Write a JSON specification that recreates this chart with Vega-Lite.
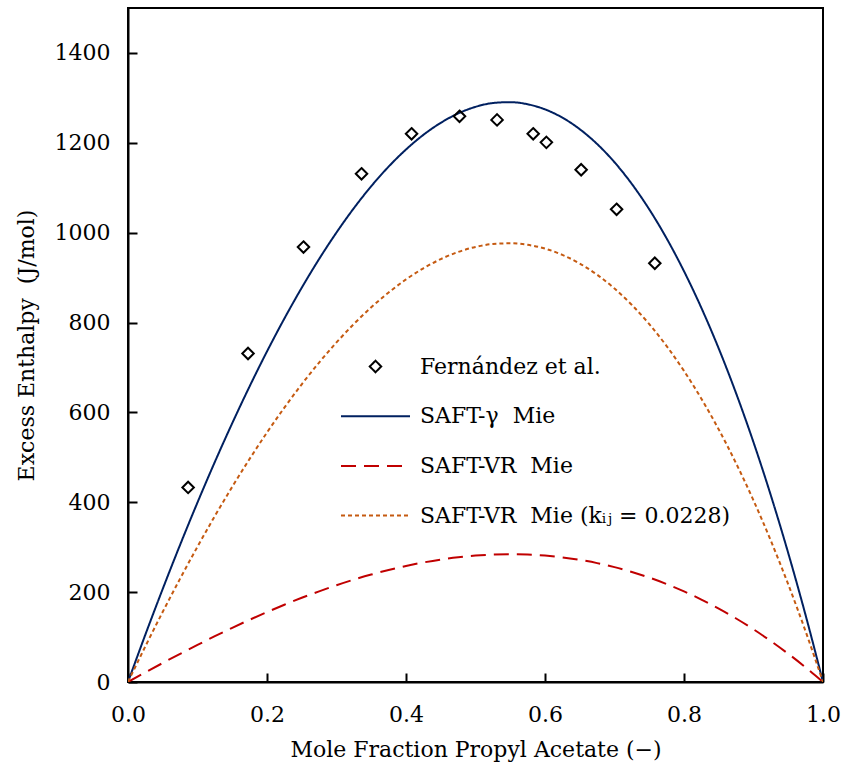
{
  "$schema": "https://vega.github.io/schema/vega-lite/v6.json",
  "width": 695,
  "height": 674,
  "autosize": {"type": "none"},
  "padding": {"left": 128, "top": 8, "right": 22, "bottom": 92},
  "background": "#ffffff",
  "config": {
    "font": "DejaVu Serif",
    "view": {"stroke": "#000000", "strokeWidth": 2},
    "axis": {
      "labelFlush": false,
      "labelFont": "DejaVu Serif",
      "labelFontSize": 22,
      "labelColor": "#000000",
      "titleFont": "DejaVu Serif",
      "titleFontSize": 22,
      "titleFontWeight": "normal",
      "titleColor": "#000000"
    },
    "legend": {
      "labelFont": "DejaVu Serif",
      "labelFontSize": 22,
      "labelColor": "#000000",
      "labelLimit": 500,
      "symbolStrokeWidth": 2,
      "padding": 0
    }
  },
  "datasets": {
    "xticks": [{"v": 0.2}, {"v": 0.4}, {"v": 0.6}, {"v": 0.8}],
    "yticks": [{"v": 200}, {"v": 400}, {"v": 600}, {"v": 800}, {"v": 1000}, {"v": 1200}, {"v": 1400}],
    "pts": [
      {"series": "Fernández et al.", "x": 0.0865, "y": 433},
      {"series": "Fernández et al.", "x": 0.1727, "y": 731},
      {"series": "Fernández et al.", "x": 0.2525, "y": 968},
      {"series": "Fernández et al.", "x": 0.336, "y": 1131},
      {"series": "Fernández et al.", "x": 0.408, "y": 1220},
      {"series": "Fernández et al.", "x": 0.477, "y": 1259},
      {"series": "Fernández et al.", "x": 0.531, "y": 1251},
      {"series": "Fernández et al.", "x": 0.583, "y": 1220},
      {"series": "Fernández et al.", "x": 0.602, "y": 1201},
      {"series": "Fernández et al.", "x": 0.652, "y": 1140},
      {"series": "Fernández et al.", "x": 0.703, "y": 1052},
      {"series": "Fernández et al.", "x": 0.758, "y": 932}
    ],
    "curves": [
      {"series": "SAFT-γ\u00a0 Mie", "x": 0, "y": 0},
      {"series": "SAFT-γ\u00a0 Mie", "x": 0.025, "y": 105.5},
      {"series": "SAFT-γ\u00a0 Mie", "x": 0.05, "y": 207.3},
      {"series": "SAFT-γ\u00a0 Mie", "x": 0.075, "y": 305.4},
      {"series": "SAFT-γ\u00a0 Mie", "x": 0.1, "y": 399.6},
      {"series": "SAFT-γ\u00a0 Mie", "x": 0.125, "y": 489.9},
      {"series": "SAFT-γ\u00a0 Mie", "x": 0.15, "y": 576.0},
      {"series": "SAFT-γ\u00a0 Mie", "x": 0.175, "y": 658.0},
      {"series": "SAFT-γ\u00a0 Mie", "x": 0.2, "y": 735.7},
      {"series": "SAFT-γ\u00a0 Mie", "x": 0.225, "y": 808.9},
      {"series": "SAFT-γ\u00a0 Mie", "x": 0.25, "y": 877.5},
      {"series": "SAFT-γ\u00a0 Mie", "x": 0.275, "y": 941.4},
      {"series": "SAFT-γ\u00a0 Mie", "x": 0.3, "y": 1000.4},
      {"series": "SAFT-γ\u00a0 Mie", "x": 0.325, "y": 1054.5},
      {"series": "SAFT-γ\u00a0 Mie", "x": 0.35, "y": 1103.4},
      {"series": "SAFT-γ\u00a0 Mie", "x": 0.375, "y": 1147.0},
      {"series": "SAFT-γ\u00a0 Mie", "x": 0.4, "y": 1185.1},
      {"series": "SAFT-γ\u00a0 Mie", "x": 0.425, "y": 1217.7},
      {"series": "SAFT-γ\u00a0 Mie", "x": 0.45, "y": 1244.4},
      {"series": "SAFT-γ\u00a0 Mie", "x": 0.475, "y": 1265.3},
      {"series": "SAFT-γ\u00a0 Mie", "x": 0.5, "y": 1280.0},
      {"series": "SAFT-γ\u00a0 Mie", "x": 0.525, "y": 1288.5},
      {"series": "SAFT-γ\u00a0 Mie", "x": 0.55, "y": 1290.5},
      {"series": "SAFT-γ\u00a0 Mie", "x": 0.575, "y": 1285.8},
      {"series": "SAFT-γ\u00a0 Mie", "x": 0.6, "y": 1274.4},
      {"series": "SAFT-γ\u00a0 Mie", "x": 0.625, "y": 1256.0},
      {"series": "SAFT-γ\u00a0 Mie", "x": 0.65, "y": 1230.3},
      {"series": "SAFT-γ\u00a0 Mie", "x": 0.675, "y": 1197.3},
      {"series": "SAFT-γ\u00a0 Mie", "x": 0.7, "y": 1156.7},
      {"series": "SAFT-γ\u00a0 Mie", "x": 0.725, "y": 1108.3},
      {"series": "SAFT-γ\u00a0 Mie", "x": 0.75, "y": 1051.9},
      {"series": "SAFT-γ\u00a0 Mie", "x": 0.775, "y": 987.3},
      {"series": "SAFT-γ\u00a0 Mie", "x": 0.8, "y": 914.2},
      {"series": "SAFT-γ\u00a0 Mie", "x": 0.825, "y": 832.6},
      {"series": "SAFT-γ\u00a0 Mie", "x": 0.85, "y": 742.1},
      {"series": "SAFT-γ\u00a0 Mie", "x": 0.875, "y": 642.4},
      {"series": "SAFT-γ\u00a0 Mie", "x": 0.9, "y": 533.5},
      {"series": "SAFT-γ\u00a0 Mie", "x": 0.925, "y": 415.1},
      {"series": "SAFT-γ\u00a0 Mie", "x": 0.95, "y": 286.8},
      {"series": "SAFT-γ\u00a0 Mie", "x": 0.975, "y": 148.5},
      {"series": "SAFT-γ\u00a0 Mie", "x": 1, "y": 0},
      {"series": "SAFT-VR\u00a0 Mie", "x": 0, "y": 0},
      {"series": "SAFT-VR\u00a0 Mie", "x": 0.025, "y": 21.4},
      {"series": "SAFT-VR\u00a0 Mie", "x": 0.05, "y": 42.3},
      {"series": "SAFT-VR\u00a0 Mie", "x": 0.075, "y": 62.7},
      {"series": "SAFT-VR\u00a0 Mie", "x": 0.1, "y": 82.6},
      {"series": "SAFT-VR\u00a0 Mie", "x": 0.125, "y": 101.9},
      {"series": "SAFT-VR\u00a0 Mie", "x": 0.15, "y": 120.6},
      {"series": "SAFT-VR\u00a0 Mie", "x": 0.175, "y": 138.5},
      {"series": "SAFT-VR\u00a0 Mie", "x": 0.2, "y": 155.6},
      {"series": "SAFT-VR\u00a0 Mie", "x": 0.225, "y": 171.9},
      {"series": "SAFT-VR\u00a0 Mie", "x": 0.25, "y": 187.4},
      {"series": "SAFT-VR\u00a0 Mie", "x": 0.275, "y": 201.8},
      {"series": "SAFT-VR\u00a0 Mie", "x": 0.3, "y": 215.3},
      {"series": "SAFT-VR\u00a0 Mie", "x": 0.325, "y": 227.8},
      {"series": "SAFT-VR\u00a0 Mie", "x": 0.35, "y": 239.1},
      {"series": "SAFT-VR\u00a0 Mie", "x": 0.375, "y": 249.3},
      {"series": "SAFT-VR\u00a0 Mie", "x": 0.4, "y": 258.3},
      {"series": "SAFT-VR\u00a0 Mie", "x": 0.425, "y": 266.0},
      {"series": "SAFT-VR\u00a0 Mie", "x": 0.45, "y": 272.4},
      {"series": "SAFT-VR\u00a0 Mie", "x": 0.475, "y": 277.5},
      {"series": "SAFT-VR\u00a0 Mie", "x": 0.5, "y": 281.3},
      {"series": "SAFT-VR\u00a0 Mie", "x": 0.525, "y": 283.5},
      {"series": "SAFT-VR\u00a0 Mie", "x": 0.55, "y": 284.3},
      {"series": "SAFT-VR\u00a0 Mie", "x": 0.575, "y": 283.6},
      {"series": "SAFT-VR\u00a0 Mie", "x": 0.6, "y": 281.3},
      {"series": "SAFT-VR\u00a0 Mie", "x": 0.625, "y": 277.4},
      {"series": "SAFT-VR\u00a0 Mie", "x": 0.65, "y": 271.8},
      {"series": "SAFT-VR\u00a0 Mie", "x": 0.675, "y": 264.6},
      {"series": "SAFT-VR\u00a0 Mie", "x": 0.7, "y": 255.6},
      {"series": "SAFT-VR\u00a0 Mie", "x": 0.725, "y": 244.9},
      {"series": "SAFT-VR\u00a0 Mie", "x": 0.75, "y": 232.4},
      {"series": "SAFT-VR\u00a0 Mie", "x": 0.775, "y": 218.0},
      {"series": "SAFT-VR\u00a0 Mie", "x": 0.8, "y": 201.7},
      {"series": "SAFT-VR\u00a0 Mie", "x": 0.825, "y": 183.5},
      {"series": "SAFT-VR\u00a0 Mie", "x": 0.85, "y": 163.4},
      {"series": "SAFT-VR\u00a0 Mie", "x": 0.875, "y": 141.3},
      {"series": "SAFT-VR\u00a0 Mie", "x": 0.9, "y": 117.2},
      {"series": "SAFT-VR\u00a0 Mie", "x": 0.925, "y": 91.0},
      {"series": "SAFT-VR\u00a0 Mie", "x": 0.95, "y": 62.8},
      {"series": "SAFT-VR\u00a0 Mie", "x": 0.975, "y": 32.5},
      {"series": "SAFT-VR\u00a0 Mie", "x": 1, "y": 0},
      {"series": "SAFT-VR\u00a0 Mie (kᵢⱼ = 0.0228)", "x": 0, "y": 0},
      {"series": "SAFT-VR\u00a0 Mie (kᵢⱼ = 0.0228)", "x": 0.025, "y": 79.4},
      {"series": "SAFT-VR\u00a0 Mie (kᵢⱼ = 0.0228)", "x": 0.05, "y": 156.2},
      {"series": "SAFT-VR\u00a0 Mie (kᵢⱼ = 0.0228)", "x": 0.075, "y": 230.1},
      {"series": "SAFT-VR\u00a0 Mie (kᵢⱼ = 0.0228)", "x": 0.1, "y": 301.2},
      {"series": "SAFT-VR\u00a0 Mie (kᵢⱼ = 0.0228)", "x": 0.125, "y": 369.4},
      {"series": "SAFT-VR\u00a0 Mie (kᵢⱼ = 0.0228)", "x": 0.15, "y": 434.5},
      {"series": "SAFT-VR\u00a0 Mie (kᵢⱼ = 0.0228)", "x": 0.175, "y": 496.5},
      {"series": "SAFT-VR\u00a0 Mie (kᵢⱼ = 0.0228)", "x": 0.2, "y": 555.2},
      {"series": "SAFT-VR\u00a0 Mie (kᵢⱼ = 0.0228)", "x": 0.225, "y": 610.6},
      {"series": "SAFT-VR\u00a0 Mie (kᵢⱼ = 0.0228)", "x": 0.25, "y": 662.6},
      {"series": "SAFT-VR\u00a0 Mie (kᵢⱼ = 0.0228)", "x": 0.275, "y": 711.0},
      {"series": "SAFT-VR\u00a0 Mie (kᵢⱼ = 0.0228)", "x": 0.3, "y": 755.7},
      {"series": "SAFT-VR\u00a0 Mie (kᵢⱼ = 0.0228)", "x": 0.325, "y": 796.7},
      {"series": "SAFT-VR\u00a0 Mie (kᵢⱼ = 0.0228)", "x": 0.35, "y": 833.8},
      {"series": "SAFT-VR\u00a0 Mie (kᵢⱼ = 0.0228)", "x": 0.375, "y": 866.9},
      {"series": "SAFT-VR\u00a0 Mie (kᵢⱼ = 0.0228)", "x": 0.4, "y": 895.9},
      {"series": "SAFT-VR\u00a0 Mie (kᵢⱼ = 0.0228)", "x": 0.425, "y": 920.7},
      {"series": "SAFT-VR\u00a0 Mie (kᵢⱼ = 0.0228)", "x": 0.45, "y": 941.1},
      {"series": "SAFT-VR\u00a0 Mie (kᵢⱼ = 0.0228)", "x": 0.475, "y": 957.0},
      {"series": "SAFT-VR\u00a0 Mie (kᵢⱼ = 0.0228)", "x": 0.5, "y": 968.3},
      {"series": "SAFT-VR\u00a0 Mie (kᵢⱼ = 0.0228)", "x": 0.525, "y": 974.8},
      {"series": "SAFT-VR\u00a0 Mie (kᵢⱼ = 0.0228)", "x": 0.55, "y": 976.4},
      {"series": "SAFT-VR\u00a0 Mie (kᵢⱼ = 0.0228)", "x": 0.575, "y": 973.0},
      {"series": "SAFT-VR\u00a0 Mie (kᵢⱼ = 0.0228)", "x": 0.6, "y": 964.5},
      {"series": "SAFT-VR\u00a0 Mie (kᵢⱼ = 0.0228)", "x": 0.625, "y": 950.6},
      {"series": "SAFT-VR\u00a0 Mie (kᵢⱼ = 0.0228)", "x": 0.65, "y": 931.3},
      {"series": "SAFT-VR\u00a0 Mie (kᵢⱼ = 0.0228)", "x": 0.675, "y": 906.4},
      {"series": "SAFT-VR\u00a0 Mie (kᵢⱼ = 0.0228)", "x": 0.7, "y": 875.7},
      {"series": "SAFT-VR\u00a0 Mie (kᵢⱼ = 0.0228)", "x": 0.725, "y": 839.1},
      {"series": "SAFT-VR\u00a0 Mie (kᵢⱼ = 0.0228)", "x": 0.75, "y": 796.5},
      {"series": "SAFT-VR\u00a0 Mie (kᵢⱼ = 0.0228)", "x": 0.775, "y": 747.6},
      {"series": "SAFT-VR\u00a0 Mie (kᵢⱼ = 0.0228)", "x": 0.8, "y": 692.3},
      {"series": "SAFT-VR\u00a0 Mie (kᵢⱼ = 0.0228)", "x": 0.825, "y": 630.5},
      {"series": "SAFT-VR\u00a0 Mie (kᵢⱼ = 0.0228)", "x": 0.85, "y": 562.0},
      {"series": "SAFT-VR\u00a0 Mie (kᵢⱼ = 0.0228)", "x": 0.875, "y": 486.5},
      {"series": "SAFT-VR\u00a0 Mie (kᵢⱼ = 0.0228)", "x": 0.9, "y": 404.1},
      {"series": "SAFT-VR\u00a0 Mie (kᵢⱼ = 0.0228)", "x": 0.925, "y": 314.3},
      {"series": "SAFT-VR\u00a0 Mie (kᵢⱼ = 0.0228)", "x": 0.95, "y": 217.2},
      {"series": "SAFT-VR\u00a0 Mie (kᵢⱼ = 0.0228)", "x": 0.975, "y": 112.5},
      {"series": "SAFT-VR\u00a0 Mie (kᵢⱼ = 0.0228)", "x": 1, "y": 0}
    ]
  },
  "encoding": {
    "x": {
      "field": "x",
      "type": "quantitative",
      "scale": {"domain": [0, 1], "nice": false, "zero": false},
      "axis": {
        "values": [0, 0.2, 0.4, 0.6, 0.8, 1.0],
        "format": ".1f",
        "grid": false,
        "domain": true,
        "domainColor": "#000000",
        "domainWidth": 2,
        "tickSize": -9,
        "tickWidth": 2,
        "tickColor": "#000000",
        "labelPadding": 31,
        "titlePadding": 14,
        "title": "Mole Fraction Propyl Acetate (−)"
      }
    },
    "y": {
      "field": "y",
      "type": "quantitative",
      "scale": {"domain": [0, 1500], "nice": false},
      "axis": {
        "values": [0, 200, 400, 600, 800, 1000, 1200, 1400],
        "format": "d",
        "grid": false,
        "domain": true,
        "domainColor": "#000000",
        "domainWidth": 2,
        "tickSize": -9,
        "tickWidth": 2,
        "tickColor": "#000000",
        "labelPadding": 27,
        "titlePadding": 16,
        "title": "Excess Enthalpy\u00a0 (J/mol)"
      }
    },
    "color": {
      "field": "series",
      "type": "nominal",
      "scale": {
        "domain": ["Fernández et al.", "SAFT-γ\u00a0 Mie", "SAFT-VR\u00a0 Mie", "SAFT-VR\u00a0 Mie (kᵢⱼ = 0.0228)"],
        "range": ["#000000", "#002060", "#C00000", "#C55A11"]
      },
      "legend": {
        "title": null,
        "orient": "none",
        "legendX": 235,
        "legendY": 346,
        "labelOffset": 32,
        "rowPadding": 25.7,
        "symbolSize": 529,
        "symbolStrokeWidth": 2
      }
    }
  },
  "layer": [
    {
      "data": {"name": "xticks"},
      "mark": {"type": "rule", "strokeWidth": 2, "color": "#000000", "opacity": 1},
      "encoding": {
        "x": {"field": "v", "type": "quantitative"},
        "y": {"datum": 0, "type": "quantitative"},
        "y2": {"datum": 20},
        "color": {"value": "#000000"}
      }
    },
    {
      "data": {"name": "yticks"},
      "mark": {"type": "rule", "strokeWidth": 2, "color": "#000000", "opacity": 1},
      "encoding": {
        "x": {"datum": 0, "type": "quantitative"},
        "x2": {"datum": 0.013},
        "y": {"field": "v", "type": "quantitative"},
        "color": {"value": "#000000"}
      }
    },
    {
      "data": {"name": "curves"},
      "mark": {"type": "line", "strokeWidth": 2, "interpolate": "monotone", "clip": true},
      "encoding": {
        "strokeDash": {
          "field": "series",
          "type": "nominal",
          "scale": {
            "domain": ["Fernández et al.", "SAFT-γ\u00a0 Mie", "SAFT-VR\u00a0 Mie", "SAFT-VR\u00a0 Mie (kᵢⱼ = 0.0228)"],
            "range": [[1, 0], [1, 0], [15, 8], [4, 3]]
          },
          "legend": {
            "title": null,
            "orient": "none",
            "legendX": 235,
            "legendY": 346,
            "labelOffset": 32,
            "rowPadding": 25.7,
            "symbolSize": 529,
            "symbolStrokeWidth": 2
          }
        }
      }
    },
    {
      "data": {"name": "pts"},
      "mark": {"type": "point", "filled": false, "size": 529, "strokeWidth": 2, "opacity": 1},
      "encoding": {
        "shape": {
          "field": "series",
          "type": "nominal",
          "scale": {
            "domain": ["Fernández et al.", "SAFT-γ\u00a0 Mie", "SAFT-VR\u00a0 Mie", "SAFT-VR\u00a0 Mie (kᵢⱼ = 0.0228)"],
            "range": ["M0,-0.5L0.5,0L0,0.5L-0.5,0Z", "M-3,0H3", "M-3,0H3", "M-3,0H3"]
          },
          "legend": {
            "title": null,
            "orient": "none",
            "legendX": 235,
            "legendY": 346,
            "labelOffset": 32,
            "rowPadding": 25.7,
            "symbolSize": 529,
            "symbolStrokeWidth": 2
          }
        }
      }
    }
  ]
}
